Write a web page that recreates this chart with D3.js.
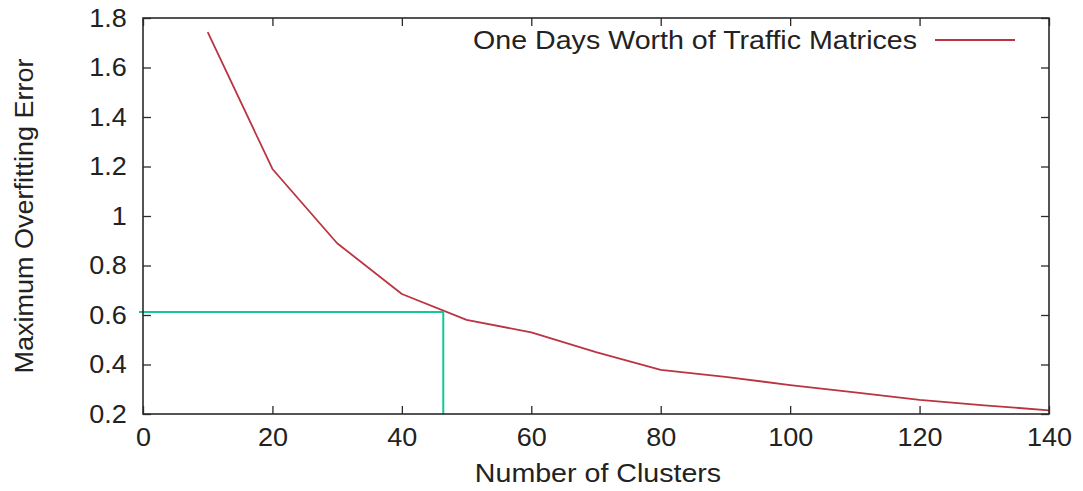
<!DOCTYPE html>
<html>
<head>
<meta charset="utf-8">
<script src="https://cdn.jsdelivr.net/npm/d3@7"></script>
<style>
  html, body { margin: 0; padding: 0; background: #fff; }
  svg { display: block; }
  text { font-family: "Liberation Sans", Arial, Helvetica, sans-serif; fill: #222; }
</style>
</head>
<body>
<svg id="chart" width="1083" height="491"></svg>
<script>
// Number of clusters vs. maximum overfitting error
const clusters = [10, 20, 30, 40, 50, 60, 70, 80, 90, 100, 110, 120, 130, 140];
const maxError = [1.743, 1.19, 0.89, 0.685, 0.58, 0.53, 0.45, 0.378, 0.35, 0.317, 0.287, 0.257, 0.235, 0.215];

const xTicks = [0, 20, 40, 60, 80, 100, 120, 140];
const yTicks = [0.2, 0.4, 0.6, 0.8, 1.0, 1.2, 1.4, 1.6, 1.8];

// Selected operating point (knee of the curve)
const chosenClusters = [46.4];
const chosenError = [0.612];

const seriesName = "One Days Worth of Traffic Matrices";
const xTitle = "Number of Clusters";
const yTitle = "Maximum Overfitting Error";

const margin = { left: 143, right: 34, top: 18, bottom: 77 };
const W = 1083, H = 491;
const svg = d3.select("#chart");

const x = d3.scaleLinear().domain([0, 140]).range([margin.left, W - margin.right]);
const y = d3.scaleLinear().domain([0.2, 1.8]).range([H - margin.bottom, margin.top]);

const fontSize = 25;
const stretch = 1.08;
const titleSize = 26;
const titleStretch = 1.1;
const axisColor = "#2a2a2a";
const lineColor = "#bb3441";
const tickLen = 8;

// Series line
const line = d3.line().x((d, i) => x(clusters[i])).y(d => y(d));
svg.append("path")
  .datum(maxError)
  .attr("fill", "none")
  .attr("stroke", lineColor)
  .attr("stroke-width", 1.8)
  .attr("stroke-linejoin", "round")
  .attr("d", line);

// Guide lines to the chosen point
svg.append("path")
  .attr("fill", "none")
  .attr("stroke", "#14c896")
  .attr("stroke-width", 2)
  .attr("d", d3.line()([
    [x(0) - 4, y(chosenError[0])],
    [x(chosenClusters[0]), y(chosenError[0])],
    [x(chosenClusters[0]), y(0.2)]
  ]));

// Axes: inward ticks on all four sides
function styleAxis(g) {
  g.select(".domain").remove();
  g.selectAll(".tick line").attr("stroke", axisColor).attr("stroke-width", 1.3);
}

const fmt = d => String(+d.toFixed(1));

const axisBottomG = svg.append("g")
  .attr("transform", `translate(0,${y(0.2)})`)
  .call(d3.axisBottom(x).tickValues(xTicks).tickSize(-tickLen).tickPadding(14).tickFormat(d3.format("d")));
styleAxis(axisBottomG);
axisBottomG.selectAll(".tick text")
  .attr("font-size", fontSize).attr("fill", "#222")
  .attr("transform", `scale(${stretch},1)`);

const axisTopG = svg.append("g")
  .attr("transform", `translate(0,${y(1.8)})`)
  .call(d3.axisTop(x).tickValues(xTicks).tickSize(-tickLen).tickFormat(""));
styleAxis(axisTopG);

const axisLeftG = svg.append("g")
  .attr("transform", `translate(${x(0)},0)`)
  .call(d3.axisLeft(y).tickValues(yTicks).tickSize(-tickLen).tickPadding(15).tickFormat(fmt));
styleAxis(axisLeftG);
axisLeftG.selectAll(".tick text")
  .attr("font-size", fontSize).attr("fill", "#222")
  .attr("transform", `scale(${stretch},1)`);

const axisRightG = svg.append("g")
  .attr("transform", `translate(${x(140)},0)`)
  .call(d3.axisRight(y).tickValues(yTicks).tickSize(-tickLen).tickFormat(""));
styleAxis(axisRightG);

// Frame
svg.append("rect")
  .attr("x", x(0)).attr("y", y(1.8))
  .attr("width", x(140) - x(0)).attr("height", y(0.2) - y(1.8))
  .attr("fill", "none").attr("stroke", axisColor).attr("stroke-width", 1.6);

// Axis titles
svg.append("text")
  .attr("transform", `translate(${(x(0) + x(140)) / 2 + 2},${H - 9}) scale(${titleStretch},1)`)
  .attr("text-anchor", "middle")
  .attr("font-size", titleSize)
  .text(xTitle);

svg.append("text")
  .attr("transform", `translate(33,${(y(0.2) + y(1.8)) / 2}) rotate(-90) scale(${stretch},1)`)
  .attr("text-anchor", "middle")
  .attr("font-size", fontSize)
  .text(yTitle);

// Legend
const legendX = 917, legendY = 49;
svg.append("text")
  .attr("transform", `translate(${legendX},${legendY}) scale(${titleStretch},1)`)
  .attr("text-anchor", "end")
  .attr("font-size", titleSize)
  .text(seriesName);
svg.append("line")
  .attr("x1", legendX + 18).attr("x2", legendX + 98)
  .attr("y1", legendY - 9).attr("y2", legendY - 9)
  .attr("stroke", lineColor).attr("stroke-width", 1.8);
</script>
</body>
</html>
